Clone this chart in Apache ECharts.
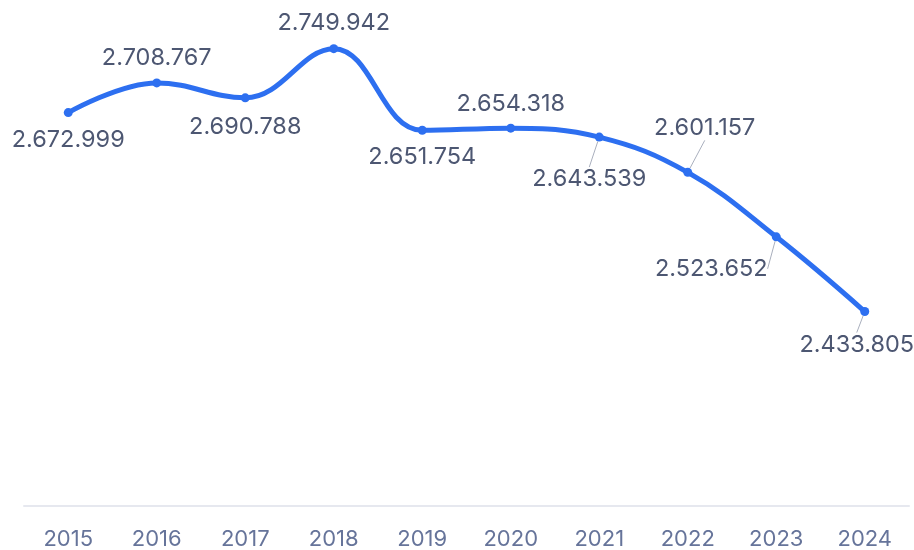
<!DOCTYPE html>
<html>
<head>
<meta charset="utf-8">
<script src="https://cdn.jsdelivr.net/npm/echarts@6/dist/echarts.min.js"></script>
<style>
  html, body { margin: 0; padding: 0; background: #fff; }
  #main { width: 914px; height: 550px; }
</style>
</head>
<body>
<div id="main"></div>
<script>
  // data
  var years = ['2015', '2016', '2017', '2018', '2019', '2020', '2021', '2022', '2023', '2024']
  var values = [2672999, 2708767, 2690788, 2749942, 2651754, 2654318, 2643539, 2601157, 2523652, 2433805]

  // label offsets from the point (centre of the text)
  var labelShift = [
    [0, 27], [0, -25], [0, 29], [0, -26], [0, 27],
    [0, -24], [-10, 42], [17, -44], [-65, 32], [-8, 33]
  ]

  function fmt (v) {
    return String(v).replace(/\B(?=(\d{3})+(?!\d))/g, '.')
  }

  var chart = echarts.init(document.getElementById('main'))
  chart.setOption({
    animation: false,
    textStyle: { fontFamily: 'Inter' },
    grid: { left: 24, right: 5, top: 7, bottom: 42 },
    xAxis: {
      type: 'category',
      data: years,
      axisLine: { lineStyle: { color: '#e6e8ef', width: 2 } },
      axisTick: { show: false },
      axisLabel: { color: '#66749a', fontSize: 22, margin: 22, fontFamily: 'Inter' }
    },
    yAxis: {
      type: 'value',
      min: 2200000,
      max: 2800000,
      show: false,
      splitLine: { show: false }
    },
    series: [{
      type: 'line',
      smooth: 0.4,
      symbol: 'circle',
      symbolSize: 9,
      data: values.map(function (v, i) {
        return { value: v, labelLine: { show: i >= 6 } }
      }),
      lineStyle: { color: '#2d6ff0', width: 5 },
      itemStyle: { color: '#2d6ff0' },
      label: {
        show: true,
        position: 'inside',
        color: '#4d5772',
        fontSize: 23.5,
        fontFamily: 'Inter',
        formatter: function (p) { return fmt(p.value) }
      },
      labelLine: {
        show: true,
        lineStyle: { color: '#a9afbd', width: 1 }
      },
      labelLayout: function (p) {
        var s = labelShift[p.dataIndex]
        return { dx: s[0], dy: s[1] }
      }
    }]
  })
</script>
</body>
</html>
